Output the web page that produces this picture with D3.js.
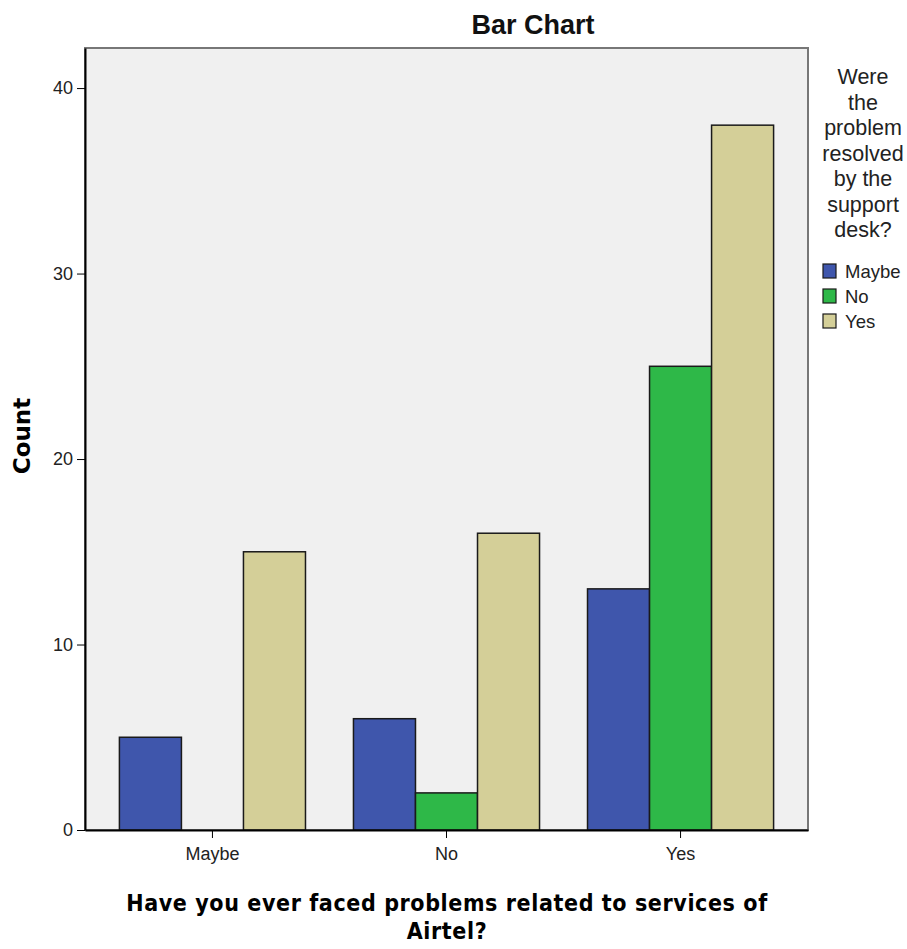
<!DOCTYPE html>
<html><head><meta charset="utf-8">
<script src="https://cdn.jsdelivr.net/npm/d3@7"></script>
<style>body{margin:0;background:#fff}</style>
</head><body>
<script>
const categories = ["Maybe", "No", "Yes"];
const seriesNames = ["Maybe", "No", "Yes"];
const seriesValues = {
  Maybe: [5, 6, 13],
  No: [0, 2, 25],
  Yes: [15, 16, 38]
};
const yTicks = [0, 10, 20, 30, 40];
const colors = ["#3f56ac", "#2eb848", "#d4cf98"];
const legendTitle = ["Were", "the", "problem", "resolved", "by the", "support", "desk?"];

const W = 907, H = 949;
const L = 85, R = 808, T = 48, B = 830;
const FONT = "'Liberation Sans', Arial, sans-serif";
const svg = d3.select("body").append("svg").attr("width", W).attr("height", H);

svg.append("rect").attr("x", L).attr("y", T).attr("width", R - L).attr("height", B - T)
  .attr("fill", "#f0f0f0").attr("stroke", "#777").attr("stroke-width", 2);

const x0 = d3.scaleBand().domain(categories).range([L, R]).paddingInner(0.205).paddingOuter(0.147);
const x1 = d3.scaleBand().domain(seriesNames).range([0, x0.bandwidth()]);
const y = d3.scaleLinear().domain([0, 42.16]).range([B, T]);

const data = [];
categories.forEach((c, i) => seriesNames.forEach((s, j) => data.push({c, s, j, v: seriesValues[s][i]})));

svg.append("g").selectAll("rect").data(data.filter(d => d.v > 0)).join("rect")
  .attr("x", d => x0(d.c) + x1(d.s))
  .attr("y", d => y(d.v))
  .attr("width", x1.bandwidth())
  .attr("height", d => y(0) - y(d.v))
  .attr("fill", d => colors[d.j])
  .attr("stroke", "#1a1a1a").attr("stroke-width", 1.5);

const yAxis = svg.append("g").attr("transform", `translate(${L},0)`)
  .call(d3.axisLeft(y).tickValues(yTicks).tickSize(8).tickSizeOuter(0).tickPadding(4).tickFormat(d3.format("d")));
yAxis.select(".domain").attr("stroke", "#000").attr("stroke-width", 2);
yAxis.selectAll("text").attr("font-family", FONT).attr("font-size", 18).attr("fill", "#222");

const xAxis = svg.append("g").attr("transform", `translate(0,${B})`)
  .call(d3.axisBottom(x0).tickSize(8).tickSizeOuter(0).tickPadding(9));
xAxis.select(".domain").attr("stroke", "#000").attr("stroke-width", 2);
xAxis.selectAll("text").attr("font-family", FONT).attr("font-size", 18).attr("fill", "#222");

svg.append("text").attr("x", 533).attr("y", 34).attr("text-anchor", "middle")
  .attr("font-family", FONT).attr("font-weight", "bold").attr("font-size", 27).attr("fill", "#111").text("Bar Chart");

svg.append("text").attr("transform", `translate(30,${(T + B) / 2 - 3}) rotate(-90)`).attr("text-anchor", "middle")
  .attr("font-family", "'DejaVu Sans', sans-serif").attr("font-weight", "bold").attr("font-size", 23).text("Count");

const xt = svg.append("text").attr("text-anchor", "middle")
  .attr("font-family", "'DejaVu Sans Condensed', 'DejaVu Sans', sans-serif").attr("font-weight", "bold")
  .attr("font-size", 23).attr("letter-spacing", 0.6);
xt.append("tspan").attr("x", 447).attr("y", 911).text("Have you ever faced problems related to services of");
xt.append("tspan").attr("x", 447).attr("y", 939).text("Airtel?");

const lg = svg.append("g");
legendTitle.forEach((t, i) => lg.append("text").attr("x", 863).attr("y", 84 + i * 25.5)
  .attr("text-anchor", "middle").attr("font-family", FONT)
  .attr("font-size", 21.5).attr("fill", "#222").text(t));
seriesNames.forEach((s, i) => {
  lg.append("rect").attr("x", 823).attr("y", 264 + i * 25).attr("width", 13).attr("height", 14)
    .attr("fill", colors[i]).attr("stroke", "#1a1a1a").attr("stroke-width", 1.2);
  lg.append("text").attr("x", 845).attr("y", 278 + i * 25)
    .attr("font-family", FONT).attr("font-size", 18.5).attr("fill", "#222").text(s);
});
</script>
</body></html>
